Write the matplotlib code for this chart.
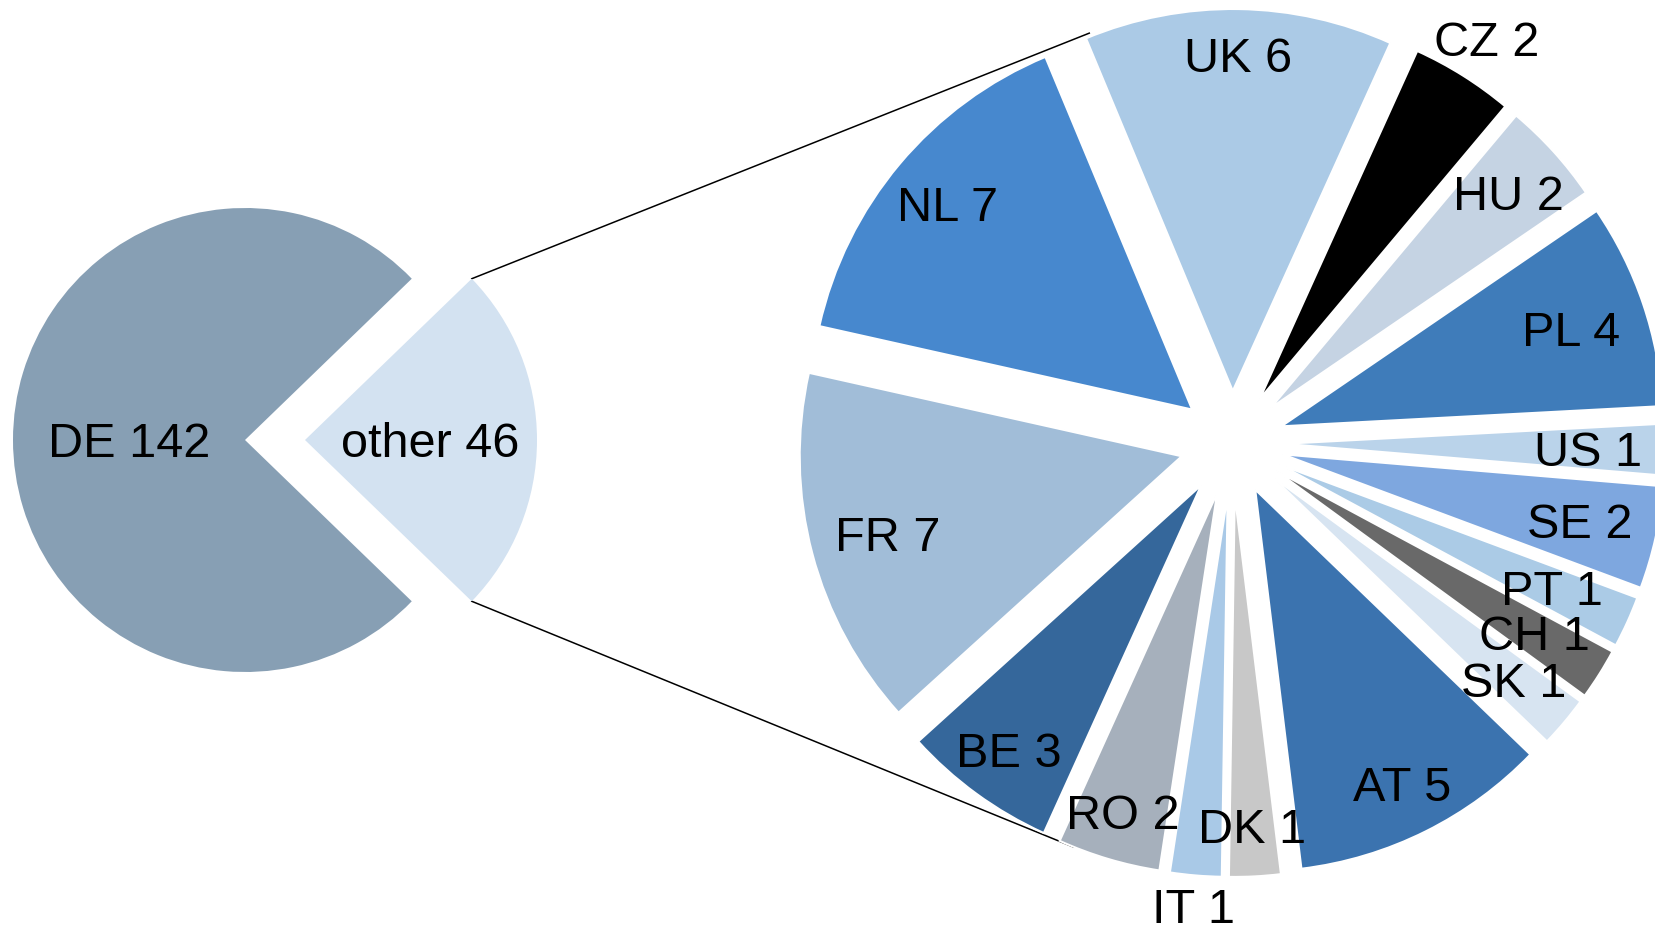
import numpy as np
import matplotlib
matplotlib.use('Agg')
import matplotlib.pyplot as plt

# ---------------- data ----------------
main_labels = ['DE', 'other']
main_values = [142, 46]
main_colors = ['#879fb4', '#d3e2f1']

sub_labels = ['UK', 'CZ', 'HU', 'PL', 'US', 'SE', 'PT', 'CH', 'SK',
              'AT', 'DK', 'IT', 'RO', 'BE', 'FR', 'NL']
sub_values = [6, 2, 2, 4, 1, 2, 1, 1, 1, 5, 1, 1, 2, 3, 7, 7]
sub_colors = ['#abcae6', '#000000', '#c5d3e3', '#3f7cba', '#bad3ea', '#7ea7df',
              '#abcbe6', '#696969', '#d7e4f1', '#3b73af', '#c8c8c8', '#a9c9e7',
              '#a6b0bc', '#35679b', '#a1bdd8', '#4788ce']

# ---------------- style / layout ----------------
plt.rcParams['font.family'] = ['Liberation Sans', 'DejaVu Sans']
W, H = 1655, 934
FS = 35
CAP = 0.716 * FS * 100 / 72  # cap height in px

L_C = (245.0, 494.0); L_R = 232.0; L_EXPL = 60.0
R_C = (1232.0, 491.0); R_R = 382.0; R_EXPL = 52.0
R_START = 112.6
# radial position of labels (in units of right-pie radius, from pie centre)
sub_label_r = [1.016, 1.25, 0.975, 0.936, 0.932, 0.933, 0.918, 0.934, 0.964,
               0.997, 1.004, 1.215, 1.006, 0.992, 0.932, 0.973]
main_label_r = [0.5, 0.54]
conn_angles = [109.2, 248.6]

fig = plt.figure(figsize=(W / 100, H / 100), dpi=100)
ax = fig.add_axes([0, 0, 1, 1])

# left pie: order other (counter-clockwise from start) then DE
lv = [main_values[1], main_values[0]]
lc = [main_colors[1], main_colors[0]]
frac_other = main_values[1] / sum(main_values)
lw_, _ = ax.pie(lv, colors=lc, explode=[L_EXPL, 0], startangle=-180 * frac_other,
                radius=L_R, center=L_C, counterclock=True,
                wedgeprops=dict(linewidth=0))
left_wedges = {'other': lw_[0], 'DE': lw_[1]}

# right pie
rw, _ = ax.pie(sub_values, colors=sub_colors, explode=[R_EXPL] * len(sub_values),
               startangle=R_START, counterclock=False, radius=R_R, center=R_C,
               wedgeprops=dict(edgecolor='white', linewidth=1.5))


def place(x, y, s):
    ax.text(x, y - CAP / 2, s, ha='center', va='baseline', fontsize=FS, color='black', zorder=5)


for name, val, rf in zip(main_labels, main_values, main_label_r):
    w = left_wedges[name]
    th = np.deg2rad((w.theta1 + w.theta2) / 2)
    cx, cy = w.center
    place(cx + rf * L_R * np.cos(th), cy + rf * L_R * np.sin(th), f'{name} {val}')

for w, name, val, rf in zip(rw, sub_labels, sub_values, sub_label_r):
    th = np.deg2rad((w.theta1 + w.theta2) / 2)
    place(R_C[0] + rf * R_R * np.cos(th), R_C[1] + rf * R_R * np.sin(th), f'{name} {val}')

# connector lines
ow = left_wedges['other']
ox, oy = ow.center
for a_left, a_right in zip([ow.theta2, ow.theta1], conn_angles):
    p0 = (ox + L_R * np.cos(np.deg2rad(a_left)), oy + L_R * np.sin(np.deg2rad(a_left)))
    p1 = (R_C[0] + (R_R + R_EXPL) * np.cos(np.deg2rad(a_right)),
          R_C[1] + (R_R + R_EXPL) * np.sin(np.deg2rad(a_right)))
    ax.plot([p0[0], p1[0]], [p0[1], p1[1]], color='black', lw=1.1, zorder=0)

ax.set_xlim(0, W)
ax.set_ylim(0, H)
ax.set_aspect('equal')
ax.axis('off')
fig.savefig('out.png', dpi=100)
